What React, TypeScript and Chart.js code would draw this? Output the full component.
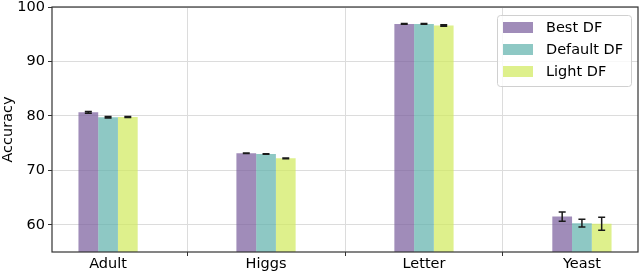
import React, { useEffect, useRef } from 'react';
import { Chart, registerables } from 'chart.js';

Chart.register(...registerables);

const categories = ['Adult', 'Higgs', 'Letter', 'Yeast'];
const seriesNames = ['Best DF', 'Default DF', 'Light DF'];
const bestDF = [80.65, 73.15, 96.9, 61.5];
const defaultDF = [79.75, 73.0, 96.9, 60.3];
const lightDF = [79.8, 72.2, 96.6, 60.2];
const bestErr = [0.15, 0.05, 0.08, 0.83];
const defaultErr = [0.12, 0.06, 0.08, 0.73];
const lightErr = [0.1, 0.07, 0.12, 1.2];
const yTicks = [60, 70, 80, 90, 100];

const seriesValues = [bestDF, defaultDF, lightDF];
const seriesErrors = [bestErr, defaultErr, lightErr];
const seriesColors = ['rgba(119,91,155,0.7)', 'rgba(94,176,171,0.7)', 'rgba(208,234,91,0.7)'];

const FONT = "'DejaVu Sans', sans-serif";

const errorBarPlugin = {
  id: 'errorBars',
  afterDatasetsDraw(chart: any) {
    const ctx = chart.ctx;
    const yScale = chart.scales.y;
    ctx.save();
    ctx.strokeStyle = '#1a1a1a';
    ctx.lineWidth = 1.5;
    chart.data.datasets.forEach((ds: any, di: number) => {
      const meta = chart.getDatasetMeta(di);
      meta.data.forEach((el: any, i: number) => {
        const v = seriesValues[di][i];
        const e = seriesErrors[di][i];
        const yTop = yScale.getPixelForValue(v + e);
        const yBot = yScale.getPixelForValue(v - e);
        const x = el.x;
        const cap = 3.5;
        ctx.beginPath();
        ctx.moveTo(x, yTop);
        ctx.lineTo(x, yBot);
        ctx.moveTo(x - cap, yTop);
        ctx.lineTo(x + cap, yTop);
        ctx.moveTo(x - cap, yBot);
        ctx.lineTo(x + cap, yBot);
        ctx.stroke();
      });
    });
    ctx.restore();
  },
};

const framePlugin = {
  id: 'frame',
  afterDraw(chart: any) {
    const { ctx, chartArea } = chart;
    ctx.save();
    ctx.strokeStyle = '#333333';
    ctx.lineWidth = 1.2;
    ctx.strokeRect(chartArea.left, chartArea.top, chartArea.right - chartArea.left, chartArea.bottom - chartArea.top);
    // legend
    const bw = 134;
    const bh = 71;
    const bx = chartArea.right - 7 - bw;
    const by = chartArea.top + 8;
    ctx.beginPath();
    ctx.roundRect(bx + 0.5, by + 0.5, bw, bh, 3);
    ctx.fillStyle = 'rgba(255,255,255,0.8)';
    ctx.fill();
    ctx.strokeStyle = '#d0d0d0';
    ctx.lineWidth = 1;
    ctx.stroke();
    ctx.font = `14.5px ${FONT}`;
    ctx.textBaseline = 'middle';
    ctx.textAlign = 'left';
    seriesNames.forEach((name, i) => {
      const cy = by + 12.5 + i * 22;
      ctx.fillStyle = seriesColors[i];
      ctx.fillRect(bx + 6, cy - 5.5, 30, 11);
      ctx.fillStyle = '#000000';
      ctx.fillText(name, bx + 49, cy + 1);
    });
    ctx.restore();
  },
};

export default function App() {
  const ref = useRef<HTMLCanvasElement>(null);
  useEffect(() => {
    if (!ref.current) return;
    const chart = new Chart(ref.current, {
      type: 'bar',
      data: {
        datasets: seriesNames.map((name, di) => ({
          label: name,
          data: seriesValues[di].map((v, i) => ({ x: i, y: v })),
          backgroundColor: seriesColors[di],
          borderWidth: 0,
          categoryPercentage: 0.375,
          barPercentage: 1,
        })),
      },
      options: {
        responsive: false,
        animation: false,
        devicePixelRatio: 1,
        layout: { padding: { top: 7, right: 2, left: 0, bottom: 0 } },
        plugins: { legend: { display: false }, tooltip: { enabled: false } },
        scales: {
          x: {
            type: 'linear',
            min: -0.355,
            max: 3.355,
            offset: false,
            grid: { color: '#dcdcdc', lineWidth: 1, tickColor: '#333333', tickLength: 4, drawTicks: true },
            border: { display: false },
            ticks: {
              stepSize: 1,
              includeBounds: false,
              padding: 0,
              color: '#000000',
              font: { family: FONT, size: 14.5 },
              callback: (v: any) => categories[v as number] ?? '',
            },
            afterBuildTicks: (scale: any) => {
              scale.ticks = categories.map((_, i) => ({ value: i }));
            },
            afterFit: (scale: any) => {
              scale.height = 20;
              scale.paddingLeft = 0;
              scale.paddingRight = 0;
            },
          },
          y: {
            min: 55,
            max: 100,
            grid: { color: '#dcdcdc', lineWidth: 1, tickColor: '#333333', tickLength: 4 },
            border: { display: false },
            title: {
              display: true,
              text: 'Accuracy',
              color: '#000000',
              font: { family: FONT, size: 14.5 },
              padding: { top: 0, bottom: 0 },
            },
            ticks: {
              includeBounds: false,
              padding: 3,
              color: '#000000',
              font: { family: FONT, size: 14.5 },
            },
            afterBuildTicks: (scale: any) => {
              scale.ticks = yTicks.map((v) => ({ value: v }));
            },
            afterFit: (scale: any) => {
              scale.width = 52;
              scale.paddingTop = 0;
              scale.paddingBottom = 0;
            },
          },
        },
      },
      plugins: [errorBarPlugin, framePlugin],
    } as any);
    return () => chart.destroy();
  }, []);
  return (
    <div style={{ position: 'fixed', left: 0, top: 0, width: 640, height: 272, background: '#ffffff' }}>
      <canvas ref={ref} width={640} height={272} style={{ display: 'block' }} />
    </div>
  );
}
